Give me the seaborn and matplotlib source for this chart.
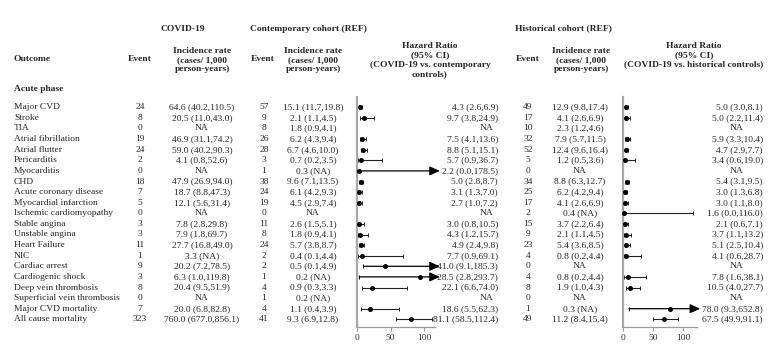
import numpy as np
import pandas as pd
import seaborn as sns
import matplotlib.pyplot as plt

outcomes = ["Major CVD", "Stroke", "TIA", "Atrial fibrillation", "Atrial flutter",
            "Pericarditis", "Myocarditis", "CHD", "Acute coronary disease",
            "Myocardial infarction", "Ischemic cardiomyopathy", "Stable angina",
            "Unstable angina", "Heart Failure", "NIC", "Cardiac arrest",
            "Cardiogenic shock", "Deep vein thrombosis", "Superficial vein thrombosis",
            "Major CVD mortality", "All cause mortality"]

covid_events = [24, 8, 0, 19, 24, 2, 0, 18, 7, 5, 0, 3, 3, 11, 1, 9, 3, 8, 0, 7, 323]
covid_rate = ["64.6 (40.2,110.5)", "20.5 (11.0,43.0)", "NA", "46.9 (31.1,74.2)",
              "59.0 (40.2,90.3)", "4.1 (0.8,52.6)", "NA", "47.9 (26.9,94.0)",
              "18.7 (8.8,47.3)", "12.1 (5.6,31.4)", "NA", "7.8 (2.8,29.8)",
              "7.9 (1.8,69.7)", "27.7 (16.8,49.0)", "3.3 (NA)", "20.2 (7.2,78.5)",
              "6.3 (1.0,119.8)", "20.4 (9.5,51.9)", "NA", "20.0 (6.8,82.8)",
              "760.0 (677.0,856.1)"]

cont_events = [57, 9, 8, 26, 28, 3, 1, 38, 24, 19, 0, 11, 8, 24, 2, 2, 1, 4, 1, 4, 41]
cont_rate = ["15.1 (11.7,19.8)", "2.1 (1.1,4.5)", "1.8 (0.9,4.1)", "6.2 (4.3,9.4)",
             "6.7 (4.6,10.0)", "0.7 (0.2,3.5)", "0.3 (NA)", "9.6 (7.1,13.5)",
             "6.1 (4.2,9.3)", "4.5 (2.9,7.4)", "NA", "2.6 (1.5,5.1)", "1.8 (0.9,4.1)",
             "5.7 (3.8,8.7)", "0.4 (0.1,4.4)", "0.5 (0.1,4.9)", "0.2 (NA)",
             "0.9 (0.3,3.3)", "0.2 (NA)", "1.1 (0.4,3.9)", "9.3 (6.9,12.8)"]
cont_hr_text = ["4.3 (2.6,6.9)", "9.7 (3.8,24.9)", "NA", "7.5 (4.1,13.6)",
                "8.8 (5.1,15.1)", "5.7 (0.9,36.7)", "2.2 (0.0,178.5)", "5.0 (2.8,8.7)",
                "3.1 (1.3,7.0)", "2.7 (1.0,7.2)", "NA", "3.0 (0.8,10.5)",
                "4.3 (1.2,15.7)", "4.9 (2.4,9.8)", "7.7 (0.9,69.1)", "41.0 (9.1,185.3)",
                "28.5 (2.8,293.7)", "22.1 (6.6,74.0)", "NA", "18.6 (5.5,62.3)",
                "81.1 (58.5,112.4)"]
# dots as drawn (cardiogenic shock dot sits near 94 in the picture)
cont_hr = [4.3, 9.7, np.nan, 7.5, 8.8, 5.7, 2.2, 5.0, 3.1, 2.7, np.nan, 3.0,
           4.3, 4.9, 7.7, 41.0, 94.0, 22.1, np.nan, 18.6, 81.1]
cont_lo = [2.6, 3.8, np.nan, 4.1, 5.1, 0.9, 0.0, 2.8, 1.3, 1.0, np.nan, 0.8,
           1.2, 2.4, 0.9, 9.1, 2.8, 6.6, np.nan, 5.5, 58.5]
cont_hi = [6.9, 24.9, np.nan, 13.6, 15.1, 36.7, 178.5, 8.7, 7.0, 7.2, np.nan, 10.5,
           15.7, 9.8, 69.1, 185.3, 293.7, 74.0, np.nan, 62.3, 112.4]

hist_events = [49, 17, 10, 32, 52, 5, 0, 34, 25, 17, 2, 15, 9, 23, 4, 0, 4, 8, 0, 1, 49]
hist_rate = ["12.9 (9.8,17.4)", "4.1 (2.6,6.9)", "2.3 (1.2,4.6)", "7.9 (5.7,11.5)",
             "12.4 (9.6,16.4)", "1.2 (0.5,3.6)", "NA", "8.8 (6.3,12.7)",
             "6.2 (4.2,9.4)", "4.1 (2.6,6.9)", "0.4 (NA)", "3.7 (2.2,6.4)",
             "2.1 (1.1,4.5)", "5.4 (3.6,8.5)", "0.8 (0.2,4.4)", "NA", "0.8 (0.2,4.4)",
             "1.9 (1.0,4.3)", "NA", "0.3 (NA)", "11.2 (8.4,15.4)"]
hist_hr_text = ["5.0 (3.0,8.1)", "5.0 (2.2,11.4)", "NA", "5.9 (3.3,10.4)",
                "4.7 (2.9,7.7)", "3.4 (0.6,19.0)", "NA", "5.4 (3.1,9.5)",
                "3.0 (1.3,6.8)", "3.0 (1.1,8.0)", "1.6 (0.0,116.0)", "2.1 (0.6,7.1)",
                "3.7 (1.1,13.2)", "5.1 (2.5,10.4)", "4.1 (0.6,28.7)", "NA",
                "7.8 (1.6,38.1)", "10.5 (4.0,27.7)", "NA", "78.0 (9.3,652.8)",
                "67.5 (49.9,91.1)"]
hist_hr = [5.0, 5.0, np.nan, 5.9, 4.7, 3.4, np.nan, 5.4, 3.0, 3.0, 1.6, 2.1,
           3.7, 5.1, 4.1, np.nan, 7.8, 10.5, np.nan, 78.0, 67.5]
hist_lo = [3.0, 2.2, np.nan, 3.3, 2.9, 0.6, np.nan, 3.1, 1.3, 1.1, 0.0, 0.6,
           1.1, 2.5, 0.6, np.nan, 1.6, 4.0, np.nan, 9.3, 49.9]
hist_hi = [8.1, 11.4, np.nan, 10.4, 7.7, 19.0, np.nan, 9.5, 6.8, 8.0, 116.0, 7.1,
           13.2, 10.4, 28.7, np.nan, 38.1, 27.7, np.nan, 652.8, 91.1]

ticks = [0, 50, 100]

# ---- layout ----
sns.set_theme(style="white")
plt.rcParams['font.family'] = ['Liberation Serif', 'DejaVu Serif']
FS = 6.8
W, H = 777, 364
fig = plt.figure(figsize=(W / 100, H / 100), dpi=100)
bg = fig.add_axes([0, 0, 1, 1])
bg.set_xlim(0, W)
bg.set_ylim(H, 0)
bg.axis('off')

ROW0, STEP = 107.3, 10.6
rows_y = ROW0 + STEP * np.arange(len(outcomes))

# headers
bold = dict(fontsize=FS, fontweight='bold', va='center')
inc_head = "Incidence rate\n(cases/ 1,000\nperson-years)"
bg.text(183, 29, "COVID-19", ha='center', **bold)
bg.text(250, 29, "Contemporary cohort (REF)", ha='left', **bold)
bg.text(515, 28, "Historical cohort (REF)", ha='left', **bold)
bg.text(14, 59, "Outcome", ha='left', **bold)
for xe in (140, 263, 528):
    bg.text(xe, 59, "Event", ha='center', **bold)
for xi in (202, 313, 581):
    bg.text(xi, 60, inc_head, ha='center', multialignment='center', **bold)
bg.text(430, 60, "Hazard Ratio\n(95% CI)\n(COVID-19 vs. contemporary\ncontrols)",
        ha='center', multialignment='center', **bold)
bg.text(694, 55, "Hazard Ratio\n(95% CI)\n(COVID-19 vs. historical controls)",
        ha='center', multialignment='center', **bold)
bg.text(14, 89, "Acute phase", ha='left', **bold)

# table body
norm = dict(fontsize=FS, va='center')
for i, y in enumerate(rows_y):
    bg.text(14, y, outcomes[i], ha='left', **norm)
    bg.text(140, y, str(covid_events[i]), ha='center', **norm)
    bg.text(202, y, covid_rate[i], ha='center', **norm)
    bg.text(264, y, str(cont_events[i]), ha='center', **norm)
    bg.text(313, y, cont_rate[i], ha='center', **norm)
    bg.text(528, y, str(hist_events[i]), ha='center', **norm)
    bg.text(580, y, hist_rate[i], ha='center', **norm)
    for txt, xr, xna in ((cont_hr_text[i], 498, 487), (hist_hr_text[i], 763, 737)):
        if txt == "NA":
            bg.text(xna, y, txt, ha='center', **norm)
        else:
            bg.text(xr, y, txt, ha='right', **norm)


def forest(x0, px_unit, xmax, axis_end, tip, hr, lo, hi):
    top, bottom = 97, 327.3
    ax = fig.add_axes([x0 / W, 1 - bottom / H, xmax * px_unit / W, (bottom - top) / H])
    ax.set_xlim(0, xmax)
    ax.set_ylim(bottom, top)
    ax.patch.set_alpha(0)
    for s in ('top', 'right'):
        ax.spines[s].set_visible(False)
    ax.spines['left'].set_color('#a8a8a8')
    ax.spines['left'].set_linewidth(1.6)
    ax.spines['bottom'].set_color('#9a9a9a')
    ax.spines['bottom'].set_linewidth(0.9)
    ax.spines['bottom'].set_bounds(0, axis_end)
    ax.set_yticks([])
    ax.set_xticks(ticks)
    ax.tick_params(axis='x', bottom=True, length=3, width=0.8, color='#9a9a9a',
                   pad=2, labelsize=FS, labelcolor='#333333')
    df = pd.DataFrame({'y': rows_y, 'hr': hr, 'lo': lo, 'hi': hi}).dropna()
    for _, r in df.iterrows():
        if r.hi > xmax:
            ax.annotate('', xy=(tip, r.y), xytext=(r.lo, r.y),
                        arrowprops=dict(arrowstyle='-|>,head_length=0.55,head_width=0.25',
                                        color='black', lw=0.9, mutation_scale=11,
                                        shrinkA=0, shrinkB=0),
                        annotation_clip=False)
            ax.vlines(r.lo, r.y - 2, r.y + 2, color='black', lw=0.7, clip_on=False)
        else:
            ax.hlines(r.y, r.lo, r.hi, color='#222222', lw=0.8, clip_on=False)
            ax.vlines([r.lo, r.hi], r.y - 2, r.y + 2, color='#222222', lw=0.7,
                      clip_on=False)
    sns.scatterplot(data=df, x='hr', y='y', ax=ax, color='black', marker='o', s=13,
                    linewidth=0, zorder=5, clip_on=False, legend=False)
    ax.set_xlabel('')
    ax.set_ylabel('')
    ax.set_ylim(bottom, top)
    return ax


forest(357.3, 0.665, 127, 117, 124, cont_hr, cont_lo, cont_hi)
forest(623.3, 0.60, 130, 122, 128, hist_hr, hist_lo, hist_hi)

fig.savefig("out.png", dpi=100)
